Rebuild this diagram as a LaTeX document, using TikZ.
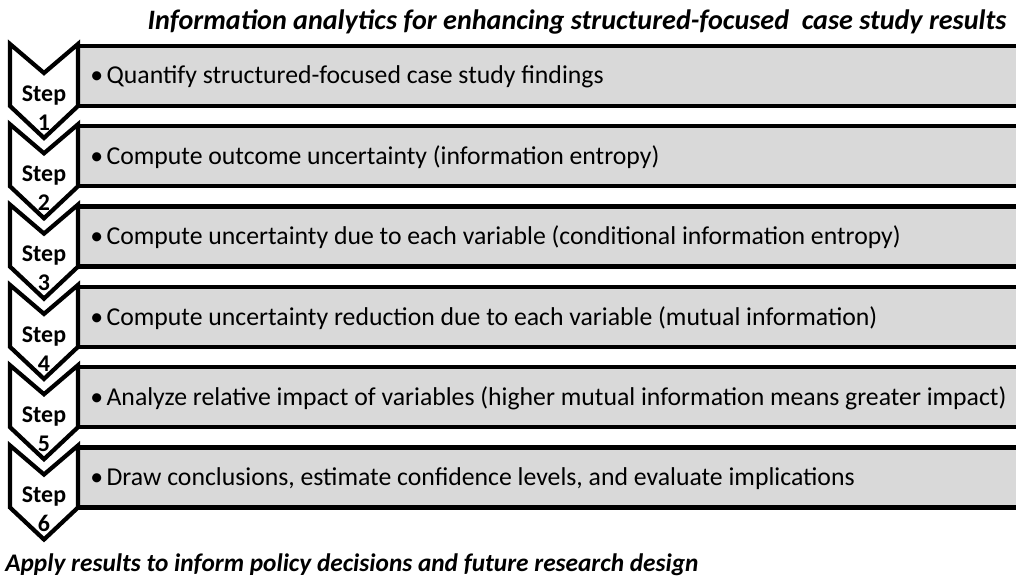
\documentclass[tikz,border=0pt]{standalone}
\usepackage{fontspec}
\setmainfont{Carlito}
\usepackage{tikz}

\definecolor{boxgray}{HTML}{D9D9D9}
\tikzset{
    stepbox/.style={draw=black, line width=3pt, fill=boxgray},
    chevron/.style={draw=black, line width=3pt, fill=white, line join=miter},
    steplabel/.style={font=\fontsize{17}{20.5}\selectfont\bfseries, align=center, inner sep=0pt},
    itemtext/.style={font=\fontsize{18.3}{20}\selectfont, anchor=west, inner sep=0pt},
    headline/.style={font=\fontsize{18}{20}\selectfont\bfseries\itshape, inner sep=0pt},
}

\begin{document}
\begin{tikzpicture}[x=0.025cm, y=-0.025cm]
        \clip (0,0) rectangle (1016,579);
        \fill[white] (0,0) rectangle (1016,579);
        \node[headline, font=\fontsize{20}{22}\selectfont\bfseries\itshape] (title) at (577,22)
            {Information analytics for enhancing structured-focused\ \ case study results};
        % one gray bar and one chevron per step
        \foreach \i/\txt in {1/{Quantify structured-focused case study findings},
                2/{Compute outcome uncertainty (information entropy)},
                3/{Compute uncertainty due to each variable (conditional information entropy)},
                4/{Compute uncertainty reduction due to each variable (mutual information)},
                5/{Analyze relative impact of variables (higher mutual information means greater impact)},
                6/{Draw conclusions, estimate confidence levels, and evaluate implications}} {
            \pgfmathsetmacro\ytop{46+80.3*(\i-1)}
            \pgfmathsetmacro\ybot{\ytop+60}
            \draw[stepbox] (77,\ytop) rectangle (1040,\ybot);
            \draw[chevron] (10,\ytop-2) -- (44,\ytop+27) -- (78,\ytop-2) -- (78,\ybot)
                -- (44,\ybot+32) -- (10,\ybot) -- cycle;
            \node[steplabel] (step\i) at (44,{(\ytop+\ybot+64)/2}) {Step\\\i};
            \node[itemtext] (item\i) at (90,\ytop+31) {\textbullet\hspace{2.5pt}\txt};
        }
        \node[headline, anchor=west] (outcome) at (5,565) {Apply results to inform policy decisions and future research design};
    \end{tikzpicture}
\end{document}
